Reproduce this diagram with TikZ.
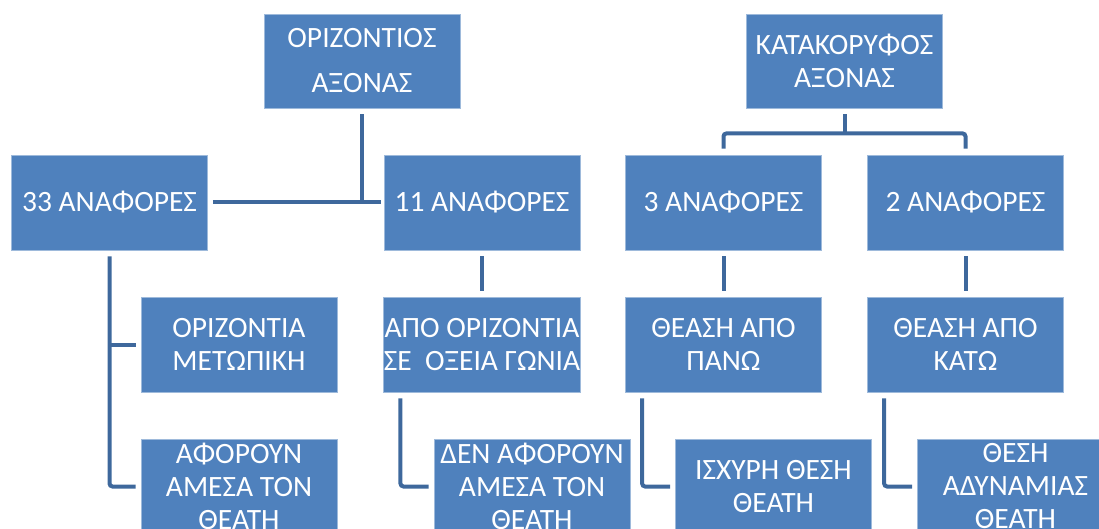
\documentclass[tikz,border=0pt]{standalone}
\usepackage{fontspec}
\setmainfont{Carlito}
\usetikzlibrary{calc}
\definecolor{boxblue}{RGB}{79,129,189}
\definecolor{connblue}{RGB}{62,104,156}
\begin{document}
\begin{tikzpicture}[x=1pt,y=-1pt,
  box/.style={rectangle,fill=boxblue,draw=white!45!boxblue,line width=0.8pt,
    minimum width=196pt,minimum height=95pt,inner sep=0pt,text=white,align=center,
    font=\fontsize{29.5}{33}\selectfont},
  conn/.style={draw=connblue,line width=4pt,line cap=butt}]
\useasboundingbox (0,0) rectangle (1099,529);
\node[box,font=\fontsize{29.5}{45}\selectfont,minimum height=94pt] (h) at (362,61) {ΟΡΙΖΟΝΤΙΟΣ\\ΑΞΟΝΑΣ};
\node[box,minimum height=94pt] (v) at (844.5,61) {ΚΑΤΑΚΟΡΥΦΟΣ\\ΑΞΟΝΑΣ};
\node[box] (a33) at (109.5,202.5) {33 ΑΝΑΦΟΡΕΣ};
\node[box] (a11) at (482,202.5) {11 ΑΝΑΦΟΡΕΣ};
\node[box] (a3) at (723.5,202.5) {3 ΑΝΑΦΟΡΕΣ};
\node[box] (a2) at (965.5,202.5) {2 ΑΝΑΦΟΡΕΣ};
\node[box] (om) at (239,344.5) {ΟΡΙΖΟΝΤΙΑ\\ΜΕΤΩΠΙΚΗ};
\node[box] (ao) at (482,344.5) {ΑΠΟ ΟΡΙΖΟΝΤΙΑ\\ΣΕ\ \ ΟΞΕΙΑ ΓΩΝΙΑ};
\node[box] (tp) at (723.5,344.5) {ΘΕΑΣΗ ΑΠΟ\\ΠΑΝΩ};
\node[box] (tk) at (965.5,344.5) {ΘΕΑΣΗ ΑΠΟ\\ΚΑΤΩ};
\node[box] (af) at (239,486.5) {ΑΦΟΡΟΥΝ\\ΑΜΕΣΑ ΤΟΝ\\ΘΕΑΤΗ};
\node[box] (den) at (532,486.5) {ΔΕΝ ΑΦΟΡΟΥΝ\\ΑΜΕΣΑ ΤΟΝ\\ΘΕΑΤΗ};
\node[box] (isx) at (773.5,486.5) {ΙΣΧΥΡΗ ΘΕΣΗ\\ΘΕΑΤΗ};
\node[box] (thes) at (1015.5,486.5) {ΘΕΣΗ\\ΑΔΥΝΑΜΙΑΣ\\ΘΕΑΤΗ};
% horizontal axis group
\draw[conn] ($(a33.east)+(5,0)$) -- ($(a11.west)+(-3,0)$);
\draw[conn] ($(h.south)+(0,6)$) -- ($(h.south |- a33.east)+(0,2)$);
\draw[conn,rounded corners=3pt] ($(a33.south)+(0,6)$) |- ($(af.west)+(-5,0)$);
\draw[conn] ($(a33.south |- om.west)$) -- ($(om.west)+(-5,0)$);
\draw[conn] ($(a11.south)+(0,6)$) -- ($(ao.north)+(0,-6)$);
\draw[conn,rounded corners=3pt] ($(ao.south west)+(17,6)$) |- ($(den.west)+(-5,0)$);
% vertical axis group
\coordinate (vj) at ($(v.south)+(0,25)$);
\draw[conn] ($(v.south)+(0,6)$) -- (vj);
\draw[conn,rounded corners=3pt] ($(a3.north)+(0,-6)$) |- (vj) -| ($(a2.north)+(0,-6)$);
\draw[conn] ($(a3.south)+(0,6)$) -- ($(tp.north)+(0,-6)$);
\draw[conn] ($(a2.south)+(0,6)$) -- ($(tk.north)+(0,-6)$);
\draw[conn,rounded corners=3pt] ($(tp.south west)+(17,6)$) |- ($(isx.west)+(-5,0)$);
\draw[conn,rounded corners=3pt] ($(tk.south west)+(17,6)$) |- ($(thes.west)+(-5,0)$);
\end{tikzpicture}
\end{document}
